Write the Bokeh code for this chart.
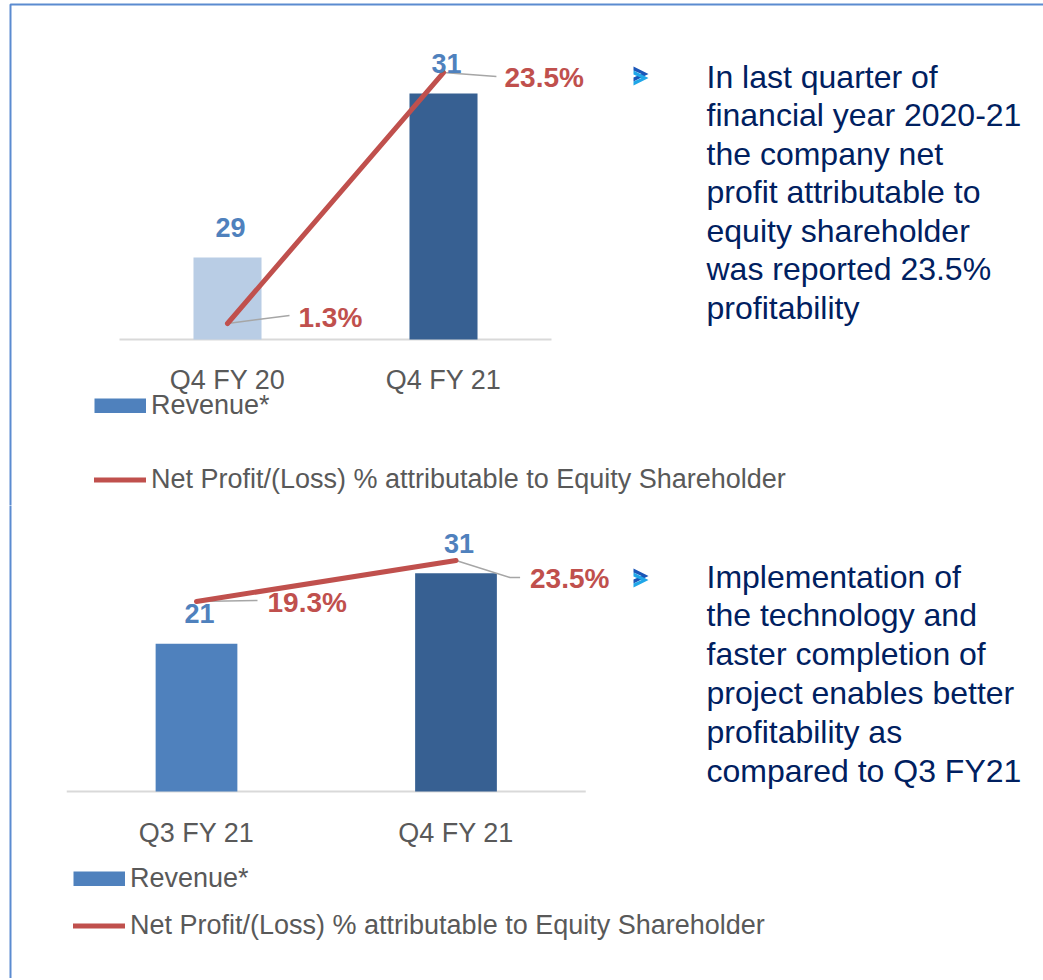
from bokeh.plotting import figure
from bokeh.models import (Range1d, Legend, LegendItem, Label, PolyAnnotation,
                          BoxAnnotation, ColumnDataSource)
from bokeh.layouts import column
from bokeh.embed import file_html
from bokeh.resources import INLINE
from bokeh.core.properties import value

# ---------------- data ----------------
top_categories = ["Q4 FY 20", "Q4 FY 21"]
top_revenue = [29, 31]
top_profit_pct = [1.3, 23.5]

bottom_categories = ["Q3 FY 21", "Q4 FY 21"]
bottom_revenue = [21, 31]
bottom_profit_pct = [19.3, 23.5]

legend_labels = ["Revenue*", "Net Profit/(Loss) % attributable to Equity Shareholder"]

top_note = ["In last quarter of", "financial year 2020-21", "the company net",
            "profit attributable to", "equity shareholder", "was reported 23.5%",
            "profitability"]
bottom_note = ["Implementation of", "the technology and", "faster completion of",
               "project enables better", "profitability as", "compared to Q3 FY21"]

# ---------------- styles ----------------
FONT = "Liberation Sans"
RED = "#c0504d"
BLUE = "#4f81bd"
DARK = "#376092"
LIGHT = "#b9cde5"
GREY_TXT = "#595959"
NAVY = "#002060"
BORDER = "#5b8bd0"
W = 1043


def make_chart(cats, rev, pct, cfg):
    pos = list(range(len(cats)))          # category slots on the x scale
    base = cfg["rev_range"][2]            # revenue axis minimum (where bars start)
    p = figure(width=W, height=cfg["height"], x_range=Range1d(*cfg["x_range"]),
               y_range=Range1d(*cfg["rev_range"][:2]), title=None,
               output_backend="svg", toolbar_location=None,
               x_axis_location=None, y_axis_location=None,
               min_border=0)
    p.extra_y_ranges = {"pct": Range1d(*cfg["pct_range"])}
    p.outline_line_color = None
    p.xgrid.visible = False
    p.ygrid.visible = False
    p.background_fill_color = "white"
    p.border_fill_color = "white"

    src = ColumnDataSource(dict(
        x=pos, cat=cats, rev=rev, pct=pct, color=cfg["bar_colors"],
        rev_label=[str(v) for v in rev],
        pct_label=["%.1f%%" % v for v in pct],
        pdx=cfg["pct_dx"], pdy=cfg["pct_dy"],
    ))

    # category axis: base line + category labels
    p.segment(x0=[pos[0] - 0.5], y0=[base], x1=[pos[-1] + 0.5], y1=[base],
              line_color="#d9d9d9", line_width=2)
    p.text(x="x", y=base, text="cat", source=src, y_offset=41,
           text_align="center", text_baseline="middle", text_color=GREY_TXT,
           text_font=value(FONT), text_font_size="27px")

    p.vbar(x="x", top="rev", bottom=base, width=0.315, source=src,
           fill_color="color", line_color=None)

    # leader lines for the % labels
    xs, ys = [], []
    for x0, v, path in zip(pos, pct, cfg["leaders"]):
        xs.append([x0 + dx for dx, dy in path])
        ys.append([v + dy for dx, dy in path])
    p.multi_line(xs=xs, ys=ys, y_range_name="pct", line_color="#a6a6a6", line_width=1.5)

    line = p.line(x="x", y="pct", source=src, y_range_name="pct", line_color=RED,
                  line_width=5, line_cap="round")

    p.text(x="x", y="rev", text="rev_label", source=src, x_offset=3, y_offset=-30,
           text_align="center", text_baseline="middle", text_color=BLUE,
           text_font=value(FONT), text_font_style="bold", text_font_size="27px")
    p.text(x="x", y="pct", text="pct_label", source=src, y_range_name="pct",
           x_offset="pdx", y_offset="pdy", text_align="left", text_baseline="middle",
           text_color=RED, text_font=value(FONT), text_font_style="bold",
           text_font_size="28px")

    # legend (series swatch: zero-length thick stroke in the series colour)
    proxy = p.line(x=[pos[0], pos[0]], y=[base, base], line_color=BLUE,
                   line_width=15, line_cap="butt")
    legend = Legend(items=[LegendItem(label=legend_labels[0], renderers=[proxy]),
                           LegendItem(label=legend_labels[1], renderers=[line])],
                    location=cfg["legend_loc"], glyph_width=52, glyph_height=15,
                    label_standoff=5, spacing=cfg["legend_spacing"], padding=0, margin=0,
                    border_line_color=None, background_fill_alpha=0,
                    label_text_font=FONT, label_text_font_size="27px",
                    label_text_color=GREY_TXT)
    p.add_layout(legend)

    # commentary text
    for i, t in enumerate(cfg["note"]):
        p.add_layout(Label(x=706, y=cfg["note_y0"] + i * cfg["note_dy"], text=t,
                           x_units="canvas", y_units="canvas",
                           text_font=FONT, text_font_size="32px", text_color=NAVY,
                           text_baseline="alphabetic"))
    # chevron bullet icon
    ax0, ay0 = cfg["icon"]
    for k, col in enumerate(["#1a56b8", "#1fa6e8"]):
        oy = ay0 + 4 * k
        p.add_layout(PolyAnnotation(
            xs=[ax0, ax0 + 15, ax0, ax0, ax0 + 8, ax0],
            ys=[oy, oy + 7.5, oy + 15, oy + 11, oy + 7.5, oy + 4],
            xs_units="canvas", ys_units="canvas",
            fill_color=col, fill_alpha=1, line_color=None))
    # slide frame
    p.add_layout(BoxAnnotation(left=10, right=3000, top=cfg["frame_top"], bottom=3000,
                               left_units="canvas", right_units="canvas",
                               top_units="canvas", bottom_units="canvas",
                               fill_alpha=0, line_color=BORDER, line_alpha=1,
                               line_width=2))
    return p


top = make_chart(top_categories, top_revenue, top_profit_pct, dict(
    height=505, x_range=(-1.05093, 3.77778),
    rev_range=(25.9756, 32.1341, 28), pct_range=(-14.797, 29.869),
    bar_colors=[LIGHT, DARK],
    pct_dx=[71, 61], pct_dy=[-6, 5],
    leaders=[[(0, 0), (0.287, 0.71)], [(0, 0), (0.075, -0.1), (0.245, -0.35)]],
    legend_loc=(94, 10), legend_spacing=43,
    note=top_note, note_y0=76, note_dy=38.5, icon=(633, 66), frame_top=4))

bottom = make_chart(bottom_categories, bottom_revenue, bottom_profit_pct, dict(
    height=473, x_range=(-0.75530, 3.26397),
    rev_range=(-26.562, 40.625, 0), pct_range=(-19.32, 29.133),
    bar_colors=[BLUE, DARK],
    pct_dx=[71, 74], pct_dy=[1, 18],
    leaders=[[(0, 0), (0.235, 0.1)], [(0, 0), (0.208, -1.74), (0.247, -1.74)]],
    legend_loc=(73, 37), legend_spacing=16,
    note=bottom_note, note_y0=71, note_dy=38.8, icon=(633, 63), frame_top=-20))

layout = column(top, bottom, spacing=0)
open("out.html", "w").write(file_html(layout, INLINE))
